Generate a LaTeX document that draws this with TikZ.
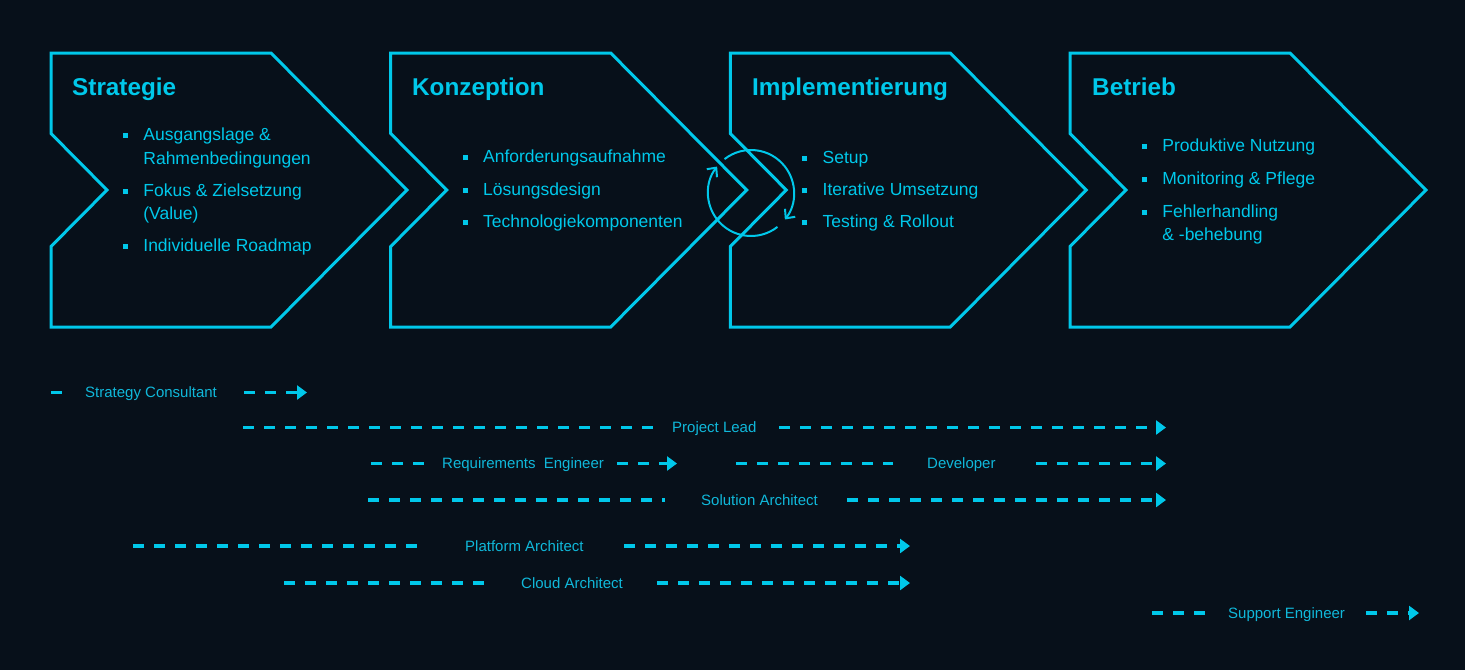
\documentclass[tikz,border=0pt]{standalone}
\usepackage{fontspec}
\setmainfont{Liberation Sans}
\usetikzlibrary{arrows.meta,calc}
\definecolor{bg}{HTML}{07101A}
\definecolor{cy}{HTML}{00C8EA}
\definecolor{lc}{HTML}{10B8DA}
\newcommand{\bsq}{\makebox[20.5pt][l]{\rule[2.5pt]{5pt}{5pt}}}
\begin{document}
\begin{tikzpicture}[x=1pt,y=-1pt,
  chev/.style={draw=cy, line width=3pt, line join=miter},
  ttl/.style={anchor=base west, inner sep=0pt, text=cy, font=\fontsize{24.3}{28}\selectfont\bfseries},
  itm/.style={anchor=base west, inner sep=0pt, text=cy, font=\fontsize{17.5}{21}\selectfont},
  role/.style={anchor=base west, inner sep=0pt, text=lc, font=\fontsize{15}{18}\selectfont},
  dl/.style={draw=cy, line width=3.2pt, dash pattern=on 11pt off 10pt},
  dla/.style={dl, -{Triangle[length=10pt,width=14pt]}},
  circ/.style={draw=cy, line width=2pt, -{Straight Barb[length=7pt,width=13pt,line width=2pt]}}]
\fill[bg] (0,0) rectangle (1465,670);
\useasboundingbox (0,0) rectangle (1465,670);
% chevrons
\foreach \L in {51,390.7,730.3,1070}{
  \draw[chev] (\L,53) -- ({\L+220},53) -- ({\L+356},190) -- ({\L+220},327) -- (\L,327) -- (\L,246.5) -- ({\L+56},190) -- (\L,133.5) -- cycle;
}
% titles
\node[ttl] (t1) at (72,95) {Strategie};
\node[ttl] (t2) at (412,95) {Konzeption};
\node[ttl] (t3) at (752,95) {Implementierung};
\node[ttl] (t4) at (1092,95) {Betrieb};
% box 1 items
\node[itm] (a1) at (122.7,140.7) {\bsq Ausgangslage \&};
\node[itm] (a1b) at (143.2,164) {Rahmenbedingungen};
\node[itm] (a2) at (122.7,196.5) {\bsq Fokus \& Zielsetzung};
\node[itm] (a2b) at (143.2,219.5) {(Value)};
\node[itm] (a3) at (122.7,251) {\bsq Individuelle Roadmap};
% box 2 items
\node[itm] (b1) at (462.4,162.7) {\bsq Anforderungsaufnahme};
\node[itm] (b2) at (462.4,195) {\bsq Lösungsdesign};
\node[itm] (b3) at (462.4,227.5) {\bsq Technologiekomponenten};
% box 3 items
\node[itm] (c1) at (802,163.3) {\bsq Setup};
\node[itm] (c2) at (802,195.8) {\bsq Iterative Umsetzung};
\node[itm] (c3) at (802,227.8) {\bsq Testing \& Rollout};
% box 4 items
\node[itm] (d1) at (1141.7,151.7) {\bsq Produktive Nutzung};
\node[itm] (d2) at (1141.7,184.8) {\bsq Monitoring \& Pflege};
\node[itm] (d3) at (1141.7,217) {\bsq Fehlerhandling};
\node[itm] (d3b) at (1162.2,240) {\& -behebung};
% iteration loop
\coordinate (loop) at (751,193);
\draw[circ] ($(loop)+(-128:43)$) arc[start angle=-128, end angle=38, radius=43];
\draw[circ] ($(loop)+(52:43)$) arc[start angle=52, end angle=218, radius=43];
% roles
\coordinate (r1a) at (51,392.5); \coordinate (r1b) at (63,392.5);
\node[role] (r1) at (85,397.8) {Strategy Consultant};
\coordinate (r1c) at (244,392.5); \coordinate (r1d) at (307,392.5);
\draw[dl] (r1a) -- (r1b); \draw[dla] (r1c) -- (r1d);

\coordinate (r2a) at (243,427.5); \coordinate (r2b) at (653,427.5);
\node[role] (r2) at (672,432.8) {Project Lead};
\coordinate (r2c) at (779,427.5); \coordinate (r2d) at (1166,427.5);
\draw[dl] (r2a) -- (r2b); \draw[dla] (r2c) -- (r2d);

\coordinate (r3a) at (371,463.5); \coordinate (r3b) at (428,463.5);
\node[role] (r3) at (442,468.8) {Requirements\ \ Engineer};
\coordinate (r3c) at (617,463.5); \coordinate (r3d) at (677,463.5);
\draw[dl] (r3a) -- (r3b); \draw[dla] (r3c) -- (r3d);

\coordinate (r4a) at (736,463.5); \coordinate (r4b) at (893,463.5);
\node[role] (r4) at (927,468.8) {Developer};
\coordinate (r4c) at (1036,463.5); \coordinate (r4d) at (1166,463.5);
\draw[dl] (r4a) -- (r4b); \draw[dla] (r4c) -- (r4d);

\coordinate (r5a) at (368,500); \coordinate (r5b) at (665,500);
\node[role] (r5) at (701,505.3) {Solution Architect};
\coordinate (r5c) at (847,500); \coordinate (r5d) at (1166,500);
\draw[dl] (r5a) -- (r5b); \draw[dla] (r5c) -- (r5d);

\coordinate (r6a) at (133,546); \coordinate (r6b) at (424,546);
\node[role] (r6) at (465,551.3) {Platform Architect};
\coordinate (r6c) at (624,546); \coordinate (r6d) at (910,546);
\draw[dl] (r6a) -- (r6b); \draw[dla] (r6c) -- (r6d);

\coordinate (r7a) at (284,583); \coordinate (r7b) at (488,583);
\node[role] (r7) at (521,588.3) {Cloud Architect};
\coordinate (r7c) at (657,583); \coordinate (r7d) at (910,583);
\draw[dl] (r7a) -- (r7b); \draw[dla] (r7c) -- (r7d);

\coordinate (r8a) at (1152,613); \coordinate (r8b) at (1208,613);
\node[role] (r8) at (1228,618.3) {Support Engineer};
\coordinate (r8c) at (1366,613); \coordinate (r8d) at (1419,613);
\draw[dl] (r8a) -- (r8b); \draw[dla] (r8c) -- (r8d);
\end{tikzpicture}
\end{document}
